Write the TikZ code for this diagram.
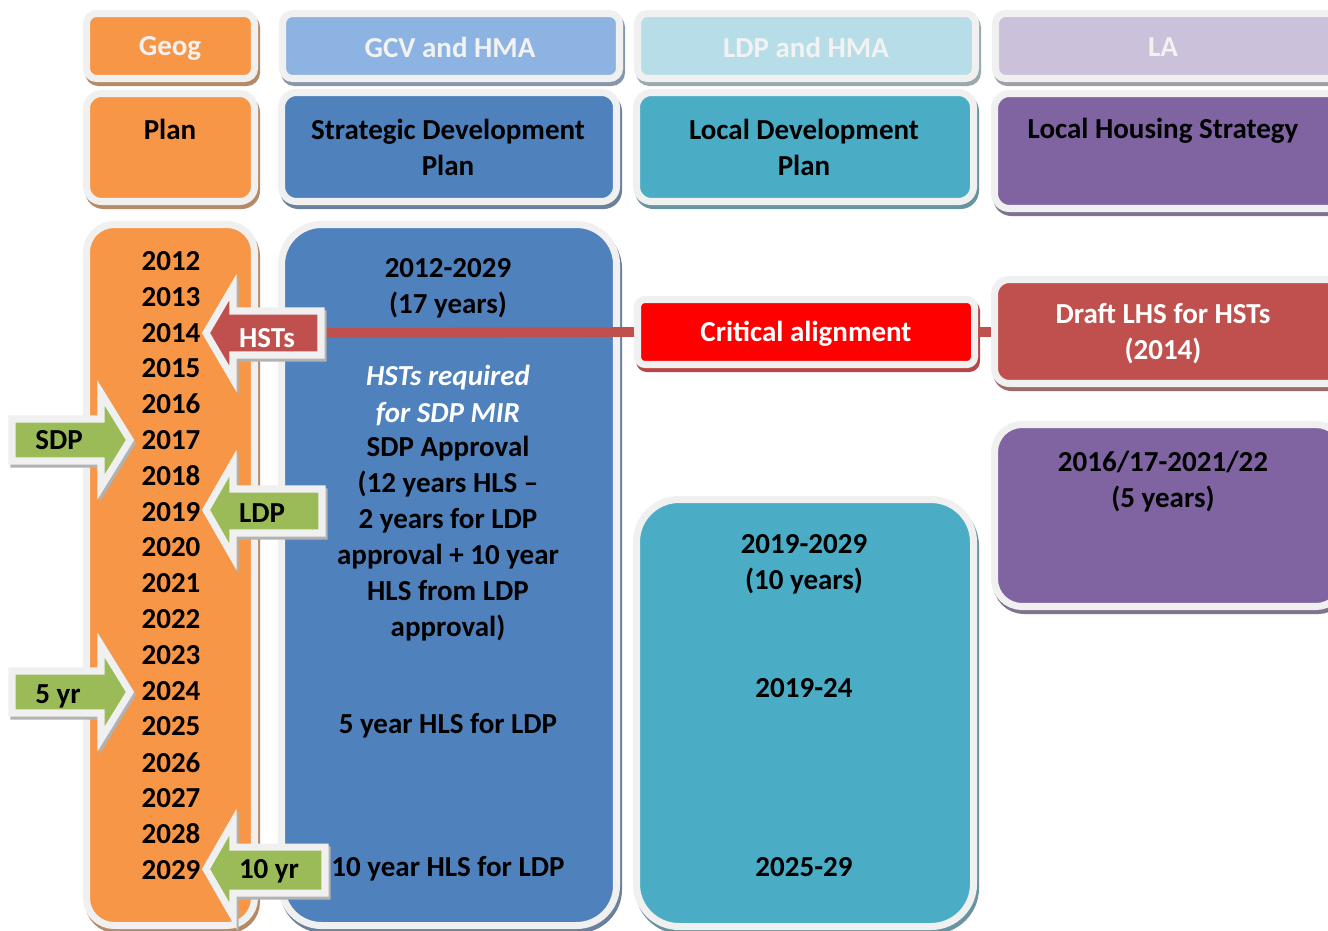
\documentclass[tikz,border=0pt]{standalone}
\usepackage{fontspec}
\setmainfont{Carlito}
\usetikzlibrary{fit}

\definecolor{geogorange}{HTML}{F79646}
\definecolor{sdpblue}{HTML}{4F81BD}
\definecolor{sdplight}{HTML}{8DB3E2}
\definecolor{ldpteal}{HTML}{4BACC6}
\definecolor{ldplight}{HTML}{B7DEE8}
\definecolor{lapurple}{HTML}{8064A2}
\definecolor{lalight}{HTML}{CCC1DA}
\definecolor{critred}{HTML}{FF0000}
\definecolor{hstred}{HTML}{C0504D}
\definecolor{arrgreen}{HTML}{9BBB59}
\definecolor{edge}{HTML}{F0F0F0}

\begin{document}
\begin{tikzpicture}[x=0.02cm, y=-0.02cm,
    panel/.style={fill=#1, draw=edge, line width=4pt, inner sep=0.07cm,
        preaction={fill=#1!45!gray, draw=#1!45!gray, line width=4pt,
            transform canvas={shift={(0.04cm,-0.08cm)}}}},
    blockarrow/.style={fill=#1, draw=edge, line width=4pt, line join=miter,
        preaction={fill=gray!60, draw=gray!60, line width=4pt,
            transform canvas={shift={(0.04cm,-0.06cm)}}}},
    lbl/.style={font=\bfseries\fontsize{16.5}{20.5}\selectfont, align=center, inner sep=0pt},
    link/.style={draw=hstred, line width=5.5pt}]

    \useasboundingbox (0,0) rectangle (1328,930);
    \clip (0,0) rectangle (1328,930);

    % header row
    \node[panel=geogorange, rounded corners=0.2cm, fit={(90,17) (251,75)}] (geog) {};
    \node[panel=sdplight, rounded corners=0.2cm, fit={(286,17) (616,75)}] (gcv) {};
    \node[panel=ldplight, rounded corners=0.2cm, fit={(641,17) (972,75)}] (ldphma) {};
    \node[panel=lalight, rounded corners=0.2cm, fit={(999,17) (1340,75)}] (la) {};

    \node[lbl, text=white!95!black] (geogt) at (170,48) {Geog};
    \node[lbl, text=white!95!black] (gcvt) at (450,47) {GCV and HMA};
    \node[lbl, text=white!95!black] (ldphmat) at (806,47) {LDP and HMA};
    \node[lbl, text=white!95!black] (lat) at (1163,47) {LA};

    % plan row
    \node[panel=geogorange, rounded corners=0.3cm, fit={(90,97) (251,198)}] (plan) {};
    \node[panel=sdpblue, rounded corners=0.3cm, fit={(285,96) (613,198)}] (sdpplan) {};
    \node[panel=ldpteal, rounded corners=0.3cm, fit={(640,96) (970,198)}] (ldpplan) {};
    \node[panel=lapurple, rounded corners=0.3cm, fit={(998,97) (1340,205)}] (lhsplan) {};

    \node[lbl] (plant) at (170,129) {Plan};
    \node[lbl] (sdpplant) at (448,147) {Strategic Development\\Plan};
    \node[lbl] (ldpplant) at (804,147) {Local Development\\Plan};
    \node[lbl] (lhsplant) at (1163,131) {Local Housing Strategy};

    % timeline
    \node[panel=geogorange, rounded corners=0.55cm, fit={(90,228) (251,922)}] (years) {};
    \node[panel=sdpblue, rounded corners=0.8cm, fit={(285,228) (613,922)}] (sdpbox) {};
    \node[panel=ldpteal, rounded corners=0.85cm, fit={(640,503) (970,923)}] (ldpbox) {};
    \node[panel=lapurple, rounded corners=0.55cm, fit={(998,428) (1340,603)}] (lhsbox) {};
    \node[panel=critred, rounded corners=0.15cm, fit={(641,303) (971,361)}] (critical) {};
    \node[panel=hstred, rounded corners=0.3cm, fit={(998,283) (1340,380)}] (draftlhs) {};

    \foreach \yr [count=\i from 0] in {2012,...,2029}
        \node[lbl] (y\yr) at (171,{261+35.8*\i}) {\yr};

    \node[lbl] (sdpspan) at (448,288) {2012-2029\\(17 years)};
    \node[lbl, text=white, font=\bfseries\itshape\fontsize{16.5}{20.5}\selectfont] (sdpmir) at (448,395.5) {HSTs required\\for SDP MIR};
    \node[lbl] (sdpappr) at (448,538.5) {SDP Approval\\(12 years HLS --\\2 years for LDP\\approval + 10 year\\HLS from LDP\\approval)};
    \node[lbl] (sdpfive) at (448,726) {5 year HLS for LDP};
    \node[lbl] (sdpten) at (448,869) {10 year HLS for LDP};

    \node[lbl] (ldpspan) at (804,564) {2019-2029\\(10 years)};
    \node[lbl] (ldpfive) at (804,688) {2019-24};
    \node[lbl] (ldpten) at (804,867) {2025-29};

    \node[lbl] (lhsspan) at (1163,482) {2016/17-2021/22\\(5 years)};
    \node[lbl, text=white] (critt) at (806,334) {Critical alignment};
    \node[lbl, text=white] (draftt) at (1163,334) {Draft LHS for HSTs\\(2014)};

    % alignment line
    \coordinate (hststail) at (321,333);
    \draw[link] (hststail) -- (critical.west);
    \draw[link] (critical.east) -- (draftlhs.west |- critical.east);

    % block arrows
    \draw[blockarrow=hstred] (206,333) -- (233,287) -- (233,311) -- (321,311)
        -- (321,355) -- (233,355) -- (233,379) -- cycle;
    \draw[blockarrow=arrgreen] (12,419) -- (101,419) -- (101,393) -- (130,440)
        -- (101,487) -- (101,461) -- (12,461) -- cycle;
    \draw[blockarrow=arrgreen] (206,510) -- (233,463) -- (233,489) -- (322,489)
        -- (322,533) -- (233,533) -- (233,557) -- cycle;
    \draw[blockarrow=arrgreen] (12,671) -- (101,671) -- (101,645) -- (130,692)
        -- (101,739) -- (101,713) -- (12,713) -- cycle;
    \draw[blockarrow=arrgreen] (206,869) -- (233,822) -- (233,847) -- (325,847)
        -- (325,893) -- (233,893) -- (233,916) -- cycle;

    \node[lbl, text=white] (hsts) at (267,338) {HSTs};
    \node[lbl] (sdparr) at (59,440) {SDP};
    \node[lbl] (ldparr) at (262,513) {LDP};
    \node[lbl] (fiveyr) at (58,696) {5 yr};
    \node[lbl] (tenyr) at (269,871) {10 yr};
\end{tikzpicture}
\end{document}
